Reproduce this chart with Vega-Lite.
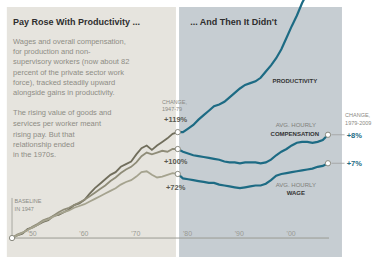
{
  "$schema": "https://vega.github.io/schema/vega-lite/v6.json",
  "width": 379,
  "height": 257,
  "autosize": {"type": "fit", "contains": "padding"},
  "padding": 0,
  "background": "#ffffff",
  "config": {"view": {"stroke": null}, "font": "Liberation Sans"},
  "datasets": {
    "panels": [
      {"name": "left", "x1": 1946.0, "x2": 1978.65, "y1": 259.5, "y2": -21.3},
      {"name": "right", "x1": 1979.25, "x2": 2010.7, "y1": 259.5, "y2": -21.3}
    ],
    "series": [
      {"s": "Productivity", "p": "before", "year": 1947, "v": 0},
      {"s": "Productivity", "p": "before", "year": 1948, "v": 3},
      {"s": "Productivity", "p": "before", "year": 1949, "v": 5},
      {"s": "Productivity", "p": "before", "year": 1950, "v": 10},
      {"s": "Productivity", "p": "before", "year": 1951, "v": 12},
      {"s": "Productivity", "p": "before", "year": 1952, "v": 15},
      {"s": "Productivity", "p": "before", "year": 1953, "v": 18},
      {"s": "Productivity", "p": "before", "year": 1954, "v": 20},
      {"s": "Productivity", "p": "before", "year": 1955, "v": 25},
      {"s": "Productivity", "p": "before", "year": 1956, "v": 26},
      {"s": "Productivity", "p": "before", "year": 1957, "v": 29},
      {"s": "Productivity", "p": "before", "year": 1958, "v": 32},
      {"s": "Productivity", "p": "before", "year": 1959, "v": 37},
      {"s": "Productivity", "p": "before", "year": 1960, "v": 39},
      {"s": "Productivity", "p": "before", "year": 1961, "v": 43},
      {"s": "Productivity", "p": "before", "year": 1962, "v": 50},
      {"s": "Productivity", "p": "before", "year": 1963, "v": 56},
      {"s": "Productivity", "p": "before", "year": 1964, "v": 61},
      {"s": "Productivity", "p": "before", "year": 1965, "v": 66},
      {"s": "Productivity", "p": "before", "year": 1966, "v": 71},
      {"s": "Productivity", "p": "before", "year": 1967, "v": 74},
      {"s": "Productivity", "p": "before", "year": 1968, "v": 80},
      {"s": "Productivity", "p": "before", "year": 1969, "v": 83},
      {"s": "Productivity", "p": "before", "year": 1970, "v": 86},
      {"s": "Productivity", "p": "before", "year": 1971, "v": 94},
      {"s": "Productivity", "p": "before", "year": 1972, "v": 101},
      {"s": "Productivity", "p": "before", "year": 1973, "v": 104},
      {"s": "Productivity", "p": "before", "year": 1974, "v": 99},
      {"s": "Productivity", "p": "before", "year": 1975, "v": 104},
      {"s": "Productivity", "p": "before", "year": 1976, "v": 108},
      {"s": "Productivity", "p": "before", "year": 1977, "v": 112},
      {"s": "Productivity", "p": "before", "year": 1978, "v": 117},
      {"s": "Productivity", "p": "before", "year": 1979, "v": 119},
      {"s": "Compensation", "p": "before", "year": 1947, "v": 0},
      {"s": "Compensation", "p": "before", "year": 1948, "v": 4},
      {"s": "Compensation", "p": "before", "year": 1949, "v": 6},
      {"s": "Compensation", "p": "before", "year": 1950, "v": 9},
      {"s": "Compensation", "p": "before", "year": 1951, "v": 13},
      {"s": "Compensation", "p": "before", "year": 1952, "v": 16},
      {"s": "Compensation", "p": "before", "year": 1953, "v": 20},
      {"s": "Compensation", "p": "before", "year": 1954, "v": 22},
      {"s": "Compensation", "p": "before", "year": 1955, "v": 25},
      {"s": "Compensation", "p": "before", "year": 1956, "v": 29},
      {"s": "Compensation", "p": "before", "year": 1957, "v": 32},
      {"s": "Compensation", "p": "before", "year": 1958, "v": 34},
      {"s": "Compensation", "p": "before", "year": 1959, "v": 37},
      {"s": "Compensation", "p": "before", "year": 1960, "v": 40},
      {"s": "Compensation", "p": "before", "year": 1961, "v": 43},
      {"s": "Compensation", "p": "before", "year": 1962, "v": 47},
      {"s": "Compensation", "p": "before", "year": 1963, "v": 51},
      {"s": "Compensation", "p": "before", "year": 1964, "v": 55},
      {"s": "Compensation", "p": "before", "year": 1965, "v": 59},
      {"s": "Compensation", "p": "before", "year": 1966, "v": 64},
      {"s": "Compensation", "p": "before", "year": 1967, "v": 68},
      {"s": "Compensation", "p": "before", "year": 1968, "v": 73},
      {"s": "Compensation", "p": "before", "year": 1969, "v": 77},
      {"s": "Compensation", "p": "before", "year": 1970, "v": 80},
      {"s": "Compensation", "p": "before", "year": 1971, "v": 85},
      {"s": "Compensation", "p": "before", "year": 1972, "v": 92},
      {"s": "Compensation", "p": "before", "year": 1973, "v": 96},
      {"s": "Compensation", "p": "before", "year": 1974, "v": 94},
      {"s": "Compensation", "p": "before", "year": 1975, "v": 96},
      {"s": "Compensation", "p": "before", "year": 1976, "v": 98},
      {"s": "Compensation", "p": "before", "year": 1977, "v": 97},
      {"s": "Compensation", "p": "before", "year": 1978, "v": 100},
      {"s": "Compensation", "p": "before", "year": 1979, "v": 100},
      {"s": "Wage", "p": "before", "year": 1947, "v": 0},
      {"s": "Wage", "p": "before", "year": 1948, "v": 3},
      {"s": "Wage", "p": "before", "year": 1949, "v": 6},
      {"s": "Wage", "p": "before", "year": 1950, "v": 9},
      {"s": "Wage", "p": "before", "year": 1951, "v": 12},
      {"s": "Wage", "p": "before", "year": 1952, "v": 15},
      {"s": "Wage", "p": "before", "year": 1953, "v": 19},
      {"s": "Wage", "p": "before", "year": 1954, "v": 21},
      {"s": "Wage", "p": "before", "year": 1955, "v": 24},
      {"s": "Wage", "p": "before", "year": 1956, "v": 27},
      {"s": "Wage", "p": "before", "year": 1957, "v": 29},
      {"s": "Wage", "p": "before", "year": 1958, "v": 31},
      {"s": "Wage", "p": "before", "year": 1959, "v": 34},
      {"s": "Wage", "p": "before", "year": 1960, "v": 36},
      {"s": "Wage", "p": "before", "year": 1961, "v": 38},
      {"s": "Wage", "p": "before", "year": 1962, "v": 41},
      {"s": "Wage", "p": "before", "year": 1963, "v": 44},
      {"s": "Wage", "p": "before", "year": 1964, "v": 47},
      {"s": "Wage", "p": "before", "year": 1965, "v": 50},
      {"s": "Wage", "p": "before", "year": 1966, "v": 53},
      {"s": "Wage", "p": "before", "year": 1967, "v": 56},
      {"s": "Wage", "p": "before", "year": 1968, "v": 60},
      {"s": "Wage", "p": "before", "year": 1969, "v": 63},
      {"s": "Wage", "p": "before", "year": 1970, "v": 65},
      {"s": "Wage", "p": "before", "year": 1971, "v": 69},
      {"s": "Wage", "p": "before", "year": 1972, "v": 74},
      {"s": "Wage", "p": "before", "year": 1973, "v": 75},
      {"s": "Wage", "p": "before", "year": 1974, "v": 71},
      {"s": "Wage", "p": "before", "year": 1975, "v": 68},
      {"s": "Wage", "p": "before", "year": 1976, "v": 69},
      {"s": "Wage", "p": "before", "year": 1977, "v": 71},
      {"s": "Wage", "p": "before", "year": 1978, "v": 73},
      {"s": "Wage", "p": "before", "year": 1979, "v": 72},
      {"s": "Productivity", "p": "after", "year": 1979, "v": 119},
      {"s": "Productivity", "p": "after", "year": 1980, "v": 119},
      {"s": "Productivity", "p": "after", "year": 1981, "v": 123},
      {"s": "Productivity", "p": "after", "year": 1982, "v": 127},
      {"s": "Productivity", "p": "after", "year": 1983, "v": 133},
      {"s": "Productivity", "p": "after", "year": 1984, "v": 138},
      {"s": "Productivity", "p": "after", "year": 1985, "v": 143},
      {"s": "Productivity", "p": "after", "year": 1986, "v": 148},
      {"s": "Productivity", "p": "after", "year": 1987, "v": 150},
      {"s": "Productivity", "p": "after", "year": 1988, "v": 153},
      {"s": "Productivity", "p": "after", "year": 1989, "v": 158},
      {"s": "Productivity", "p": "after", "year": 1990, "v": 163},
      {"s": "Productivity", "p": "after", "year": 1991, "v": 168},
      {"s": "Productivity", "p": "after", "year": 1992, "v": 172},
      {"s": "Productivity", "p": "after", "year": 1993, "v": 174},
      {"s": "Productivity", "p": "after", "year": 1994, "v": 176},
      {"s": "Productivity", "p": "after", "year": 1995, "v": 180},
      {"s": "Productivity", "p": "after", "year": 1996, "v": 187},
      {"s": "Productivity", "p": "after", "year": 1997, "v": 194},
      {"s": "Productivity", "p": "after", "year": 1998, "v": 202},
      {"s": "Productivity", "p": "after", "year": 1999, "v": 212},
      {"s": "Productivity", "p": "after", "year": 2000, "v": 225},
      {"s": "Productivity", "p": "after", "year": 2001, "v": 238},
      {"s": "Productivity", "p": "after", "year": 2002, "v": 250},
      {"s": "Productivity", "p": "after", "year": 2003, "v": 264},
      {"s": "Productivity", "p": "after", "year": 2004, "v": 275},
      {"s": "Productivity", "p": "after", "year": 2005, "v": 282},
      {"s": "Productivity", "p": "after", "year": 2006, "v": 286},
      {"s": "Productivity", "p": "after", "year": 2007, "v": 292},
      {"s": "Productivity", "p": "after", "year": 2008, "v": 300},
      {"s": "Compensation", "p": "after", "year": 1979, "v": 100},
      {"s": "Compensation", "p": "after", "year": 1980, "v": 97},
      {"s": "Compensation", "p": "after", "year": 1981, "v": 95},
      {"s": "Compensation", "p": "after", "year": 1982, "v": 93},
      {"s": "Compensation", "p": "after", "year": 1983, "v": 92},
      {"s": "Compensation", "p": "after", "year": 1984, "v": 91},
      {"s": "Compensation", "p": "after", "year": 1985, "v": 90},
      {"s": "Compensation", "p": "after", "year": 1986, "v": 89},
      {"s": "Compensation", "p": "after", "year": 1987, "v": 88},
      {"s": "Compensation", "p": "after", "year": 1988, "v": 86},
      {"s": "Compensation", "p": "after", "year": 1989, "v": 85},
      {"s": "Compensation", "p": "after", "year": 1990, "v": 85},
      {"s": "Compensation", "p": "after", "year": 1991, "v": 84},
      {"s": "Compensation", "p": "after", "year": 1992, "v": 85},
      {"s": "Compensation", "p": "after", "year": 1993, "v": 85},
      {"s": "Compensation", "p": "after", "year": 1994, "v": 85},
      {"s": "Compensation", "p": "after", "year": 1995, "v": 84},
      {"s": "Compensation", "p": "after", "year": 1996, "v": 85},
      {"s": "Compensation", "p": "after", "year": 1997, "v": 88},
      {"s": "Compensation", "p": "after", "year": 1998, "v": 93},
      {"s": "Compensation", "p": "after", "year": 1999, "v": 97},
      {"s": "Compensation", "p": "after", "year": 2000, "v": 100},
      {"s": "Compensation", "p": "after", "year": 2001, "v": 104},
      {"s": "Compensation", "p": "after", "year": 2002, "v": 107},
      {"s": "Compensation", "p": "after", "year": 2003, "v": 108},
      {"s": "Compensation", "p": "after", "year": 2004, "v": 108},
      {"s": "Compensation", "p": "after", "year": 2005, "v": 107},
      {"s": "Compensation", "p": "after", "year": 2006, "v": 108},
      {"s": "Compensation", "p": "after", "year": 2007, "v": 110},
      {"s": "Compensation", "p": "after", "year": 2008, "v": 116},
      {"s": "Wage", "p": "after", "year": 1979, "v": 72},
      {"s": "Wage", "p": "after", "year": 1980, "v": 67},
      {"s": "Wage", "p": "after", "year": 1981, "v": 66},
      {"s": "Wage", "p": "after", "year": 1982, "v": 65},
      {"s": "Wage", "p": "after", "year": 1983, "v": 64},
      {"s": "Wage", "p": "after", "year": 1984, "v": 63},
      {"s": "Wage", "p": "after", "year": 1985, "v": 62},
      {"s": "Wage", "p": "after", "year": 1986, "v": 62},
      {"s": "Wage", "p": "after", "year": 1987, "v": 60},
      {"s": "Wage", "p": "after", "year": 1988, "v": 59},
      {"s": "Wage", "p": "after", "year": 1989, "v": 58},
      {"s": "Wage", "p": "after", "year": 1990, "v": 57},
      {"s": "Wage", "p": "after", "year": 1991, "v": 56},
      {"s": "Wage", "p": "after", "year": 1992, "v": 57},
      {"s": "Wage", "p": "after", "year": 1993, "v": 58},
      {"s": "Wage", "p": "after", "year": 1994, "v": 59},
      {"s": "Wage", "p": "after", "year": 1995, "v": 59},
      {"s": "Wage", "p": "after", "year": 1996, "v": 61},
      {"s": "Wage", "p": "after", "year": 1997, "v": 65},
      {"s": "Wage", "p": "after", "year": 1998, "v": 70},
      {"s": "Wage", "p": "after", "year": 1999, "v": 72},
      {"s": "Wage", "p": "after", "year": 2000, "v": 73},
      {"s": "Wage", "p": "after", "year": 2001, "v": 74},
      {"s": "Wage", "p": "after", "year": 2002, "v": 75},
      {"s": "Wage", "p": "after", "year": 2003, "v": 76},
      {"s": "Wage", "p": "after", "year": 2004, "v": 77},
      {"s": "Wage", "p": "after", "year": 2005, "v": 78},
      {"s": "Wage", "p": "after", "year": 2006, "v": 80},
      {"s": "Wage", "p": "after", "year": 2007, "v": 81},
      {"s": "Wage", "p": "after", "year": 2008, "v": 84}
    ],
    "dots": [
      {"year": 1947, "v": 0},
      {"year": 1979, "v": 119},
      {"year": 1979, "v": 100},
      {"year": 1979, "v": 72},
      {"year": 2008, "v": 116},
      {"year": 2008, "v": 84}
    ],
    "leaders": [
      {"x1": 2008.7, "x2": 2011.2, "v": 116},
      {"x1": 2008.7, "x2": 2011.2, "v": 84}
    ],
    "ticks": [
      {"year": 1950, "t": "'50"},
      {"year": 1960, "t": "'60"},
      {"year": 1970, "t": "'70"},
      {"year": 1980, "t": "'80"},
      {"year": 1990, "t": "'90"},
      {"year": 2000, "t": "'00"}
    ],
    "para": [
      {"x": 1947.2, "v": 220.2, "t": "Wages and overall compensation,"},
      {"x": 1947.2, "v": 209.0, "t": "for production and non-"},
      {"x": 1947.2, "v": 197.8, "t": "supervisory workers (now about 82"},
      {"x": 1947.2, "v": 185.4, "t": "percent of the private sector work"},
      {"x": 1947.2, "v": 174.2, "t": "force), tracked steadily upward"},
      {"x": 1947.2, "v": 162.9, "t": "alongside gains in productivity."},
      {"x": 1947.2, "v": 140.4, "t": "The rising value of goods and"},
      {"x": 1947.2, "v": 128.1, "t": "services per worker meant"},
      {"x": 1947.2, "v": 115.7, "t": "rising pay. But that"},
      {"x": 1947.2, "v": 104.5, "t": "relationship ended"},
      {"x": 1947.2, "v": 93.3, "t": "in the 1970s."}
    ],
    "titles": [
      {"x": 1947.2, "v": 242.7, "t": "Pay Rose With Productivity ..."},
      {"x": 1981.4, "v": 242.7, "t": "... And Then It Didn't"}
    ],
    "smallGrayLeft": [
      {"x": 1975.95, "v": 152.8, "t": "CHANGE,"},
      {"x": 1975.95, "v": 144.9, "t": "1947-79"},
      {"x": 1947.5, "v": 41.6, "t": "BASELINE"},
      {"x": 1947.5, "v": 32.6, "t": "IN 1947"},
      {"x": 2011.3, "v": 138.2, "t": "CHANGE,"},
      {"x": 2011.3, "v": 129.2, "t": "1979-2009"}
    ],
    "smallGrayCenter": [
      {"x": 2001.8, "v": 127.0, "t": "AVG. HOURLY"},
      {"x": 2001.8, "v": 59.6, "t": "AVG. HOURLY"}
    ],
    "smallBold": [
      {"x": 2001.6, "v": 176.4, "t": "PRODUCTIVITY", "a": "center"},
      {"x": 2001.6, "v": 116.9, "t": "COMPENSATION", "a": "center"},
      {"x": 2001.8, "v": 50.6, "t": "WAGE", "a": "center"}
    ],
    "pctLeft": [
      {"x": 1978.6, "v": 132.6, "t": "+119%"},
      {"x": 1978.6, "v": 85.4, "t": "+100%"},
      {"x": 1978.6, "v": 56.2, "t": "+72%"}
    ],
    "pctRight": [
      {"x": 2011.6, "v": 114.6, "t": "+8%"},
      {"x": 2011.6, "v": 83.1, "t": "+7%"}
    ]
  },
  "layer": [
    {
      "data": {"name": "panels"},
      "mark": {"type": "rect"},
      "encoding": {
        "x": {"field": "x1", "type": "quantitative", "scale": {"domain": [1944.68, 2017.85], "nice": false, "zero": false}, "axis": null},
        "x2": {"field": "x2"},
        "y": {"field": "y1", "type": "quantitative", "scale": {"domain": [-21.3, 267.4], "nice": false, "zero": false}, "axis": null},
        "y2": {"field": "y2"},
        "color": {"field": "name", "type": "nominal", "scale": {"domain": ["left", "right"], "range": ["#e6e4de", "#c6cdd2"]}, "legend": null}
      }
    },
    {
      "data": {"values": [{"x1": 1947, "x2": 2008.2, "v": 0}]},
      "mark": {"type": "rule", "stroke": "#9a9a92", "strokeWidth": 1},
      "encoding": {
        "x": {"field": "x1", "type": "quantitative"},
        "x2": {"field": "x2"},
        "y": {"field": "v", "type": "quantitative"}
      }
    },
    {
      "data": {"values": [{"x": 1947, "v1": 0, "v2": 45}]},
      "mark": {"type": "rule", "stroke": "#9a9a92", "strokeWidth": 0.8},
      "encoding": {
        "x": {"field": "x", "type": "quantitative"},
        "y": {"field": "v1", "type": "quantitative"},
        "y2": {"field": "v2"}
      }
    },
    {
      "data": {"name": "ticks"},
      "mark": {"type": "text", "align": "left", "baseline": "bottom", "fontSize": 7, "fill": "#9a9a92", "dy": -1},
      "encoding": {
        "x": {"field": "year", "type": "quantitative"},
        "y": {"datum": 0, "type": "quantitative"},
        "text": {"field": "t"}
      }
    },
    {
      "data": {"name": "series"},
      "transform": [{"filter": "datum.p === 'before'"}],
      "mark": {"type": "line", "strokeWidth": 1.8, "clip": true},
      "encoding": {
        "x": {"field": "year", "type": "quantitative"},
        "y": {"field": "v", "type": "quantitative"},
        "detail": {"field": "s"},
        "stroke": {"field": "s", "type": "nominal", "scale": {"domain": ["Productivity", "Compensation", "Wage"], "range": ["#716e5c", "#8f8c78", "#a5a38f"]}, "legend": null}
      }
    },
    {
      "data": {"name": "series"},
      "transform": [{"filter": "datum.p === 'after'"}],
      "mark": {"type": "line", "strokeWidth": 2.2, "stroke": "#1d6b84", "clip": true},
      "encoding": {
        "x": {"field": "year", "type": "quantitative"},
        "y": {"field": "v", "type": "quantitative"},
        "detail": {"field": "s"}
      }
    },
    {
      "data": {"name": "leaders"},
      "mark": {"type": "rule", "stroke": "#a0a0a0", "strokeWidth": 0.8},
      "encoding": {
        "x": {"field": "x1", "type": "quantitative"},
        "x2": {"field": "x2"},
        "y": {"field": "v", "type": "quantitative"}
      }
    },
    {
      "data": {"name": "dots"},
      "mark": {"type": "point", "filled": false, "fill": "#ffffff", "fillOpacity": 1, "stroke": "#8a8a80", "strokeWidth": 1, "size": 28, "opacity": 1},
      "encoding": {
        "x": {"field": "year", "type": "quantitative"},
        "y": {"field": "v", "type": "quantitative"}
      }
    },
    {
      "data": {"name": "titles"},
      "mark": {"type": "text", "align": "left", "baseline": "middle", "fontSize": 9, "fontWeight": "bold", "fill": "#2e2e2e"},
      "encoding": {
        "x": {"field": "x", "type": "quantitative"},
        "y": {"field": "v", "type": "quantitative"},
        "text": {"field": "t"}
      }
    },
    {
      "data": {"name": "para"},
      "mark": {"type": "text", "align": "left", "baseline": "middle", "fontSize": 7.5, "fill": "#8e8d85"},
      "encoding": {
        "x": {"field": "x", "type": "quantitative"},
        "y": {"field": "v", "type": "quantitative"},
        "text": {"field": "t"}
      }
    },
    {
      "data": {"name": "smallGrayLeft"},
      "mark": {"type": "text", "align": "left", "baseline": "middle", "fontSize": 5.5, "fill": "#8a8a84"},
      "encoding": {
        "x": {"field": "x", "type": "quantitative"},
        "y": {"field": "v", "type": "quantitative"},
        "text": {"field": "t"}
      }
    },
    {
      "data": {"name": "smallGrayCenter"},
      "mark": {"type": "text", "align": "center", "baseline": "middle", "fontSize": 6, "fill": "#7e7e7a"},
      "encoding": {
        "x": {"field": "x", "type": "quantitative"},
        "y": {"field": "v", "type": "quantitative"},
        "text": {"field": "t"}
      }
    },
    {
      "data": {"name": "smallBold"},
      "mark": {"type": "text", "align": "center", "baseline": "middle", "fontSize": 6, "fontWeight": "bold", "fill": "#333333"},
      "encoding": {
        "x": {"field": "x", "type": "quantitative"},
        "y": {"field": "v", "type": "quantitative"},
        "text": {"field": "t"}
      }
    },
    {
      "data": {"name": "pctLeft"},
      "mark": {"type": "text", "align": "center", "baseline": "middle", "fontSize": 7.5, "fontWeight": "bold", "fill": "#5a5a52"},
      "encoding": {
        "x": {"field": "x", "type": "quantitative"},
        "y": {"field": "v", "type": "quantitative"},
        "text": {"field": "t"}
      }
    },
    {
      "data": {"name": "pctRight"},
      "mark": {"type": "text", "align": "left", "baseline": "middle", "fontSize": 7.5, "fontWeight": "bold", "fill": "#1d6b84"},
      "encoding": {
        "x": {"field": "x", "type": "quantitative"},
        "y": {"field": "v", "type": "quantitative"},
        "text": {"field": "t"}
      }
    }
  ]
}
